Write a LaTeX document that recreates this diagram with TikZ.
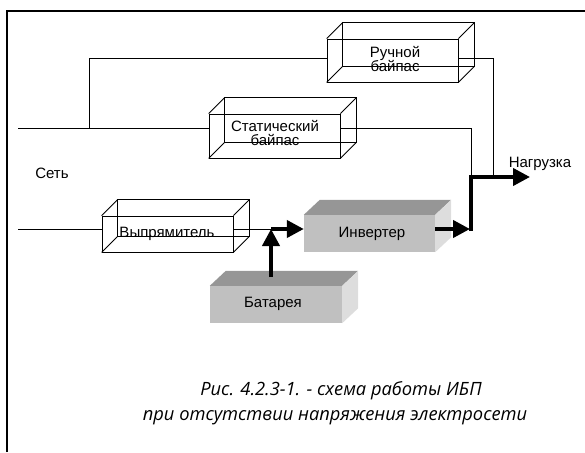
\documentclass[tikz,border=0pt]{standalone}
\usepackage{fontspec}
\setmainfont{Liberation Sans}
\newfontfamily\capfont{Open Sans}
\usetikzlibrary{arrows.meta}
\definecolor{frontc}{HTML}{C0C0C0}
\definecolor{topc}{HTML}{969696}
\definecolor{sidec}{HTML}{DDDDDD}
\newcommand\wireback[1]{%
  \draw[wire] ([shift={(16,-16)}]#1.south west) rectangle ([shift={(16,-16)}]#1.north east);
  \draw[wire] (#1.north west) -- ++(16,-16) (#1.north east) -- ++(16,-16)
              (#1.south west) -- ++(16,-16) (#1.south east) -- ++(16,-16);}
\newcommand\solidfaces[1]{%
  \fill[topc] (#1.north west) -- ++(16,-15) -- ([shift={(16,-15)}]#1.north east) -- (#1.north east) -- cycle;
  \fill[sidec] (#1.north east) -- ++(16,-15) -- ([shift={(16,-15)}]#1.south east) -- (#1.south east) -- cycle;}
\begin{document}
\begin{tikzpicture}[x=1pt,y=-1pt,
  wire/.style={line width=0.8pt},
  wbox/.style={draw, line width=0.8pt, inner sep=0pt},
  sbox/.style={fill=frontc, inner sep=0pt},
  flow/.style={line width=4pt, line join=miter, -{Triangle[length=17pt,width=17pt]}},
  lbl/.style={font=\fontsize{15}{15}\selectfont, inner sep=0pt, anchor=base},
  captext/.style={font=\capfont\itshape\fontsize{18.3}{18.3}\selectfont, inner sep=0pt, anchor=base}]
\useasboundingbox (0,0) rectangle (585,452);
% frame
\draw[line width=2.5pt] (7,452) -- (7,11) -- (585,11);
% boxes (wire frames)
\node[wbox, minimum width=131pt, minimum height=43pt] (man) at (392.5,60.5) {};
\node[wbox, minimum width=131pt, minimum height=44pt] (stat) at (274.5,136) {};
\node[wbox, minimum width=131pt, minimum height=36pt] (rect) at (167.5,234) {};
\wireback{man}
\wireback{stat}
\wireback{rect}
% solid boxes
\node[sbox, minimum width=131pt, minimum height=37pt] (inv) at (369.5,233.5) {};
\node[sbox, minimum width=132pt, minimum height=37pt] (bat) at (276,304.5) {};
\solidfaces{inv}
\solidfaces{bat}
% coordinates
\coordinate (m1) at (18,128);
\coordinate (m2) at (18,229);
\coordinate (j1) at (89,128);
\coordinate (mr) at (493,177);
\coordinate (lk) at (471,177);
\coordinate (load) at (530,177);
\coordinate (jb) at (271,229);
\coordinate (bt) at (271,277);
\coordinate (io) at (471,229);
% thin connectors
\draw[wire] (m1) -- (m1 -| stat.west);
\draw[wire] (j1) |- ([yshift=2.5pt]man.west);
\draw[wire] ([yshift=2.5pt]man.east) -| (mr);
\draw[wire] (stat.east |- m1) -| (lk);
\draw[wire] (m2) -- (m2 -| rect.west);
\draw[wire] (rect.east |- m2) -- (jb);
% thick flow
\draw[flow] (jb) -- (inv.west |- jb);
\draw[flow] (bt) -- (jb);
\draw[flow] (inv.east |- jb) -- ([xshift=-1pt]io);
\draw[flow] ([yshift=-2pt]io) -- (lk) -- (load);
% labels
\node[lbl] (t1a) at (395,57) {Ручной};
\node[lbl] (t1b) at (395,71) {байпас};
\node[lbl] (t2a) at (275,131) {Статический};
\node[lbl] (t2b) at (275,145) {байпас};
\node[lbl] (t3) at (167,237) {Выпрямитель};
\node[lbl] (t4) at (372,237) {Инвертер};
\node[lbl] (t5) at (273,307) {Батарея};
\node[lbl] (t6) at (540,167) {Нагрузка};
\node[lbl] (t7) at (52,178) {Сеть};
\node[captext] (c1) at (341,395) {Рис. 4.2.3-1. - схема работы ИБП};
\node[captext] (c2) at (335,420) {при отсутствии напряжения электросети};
\end{tikzpicture}
\end{document}
